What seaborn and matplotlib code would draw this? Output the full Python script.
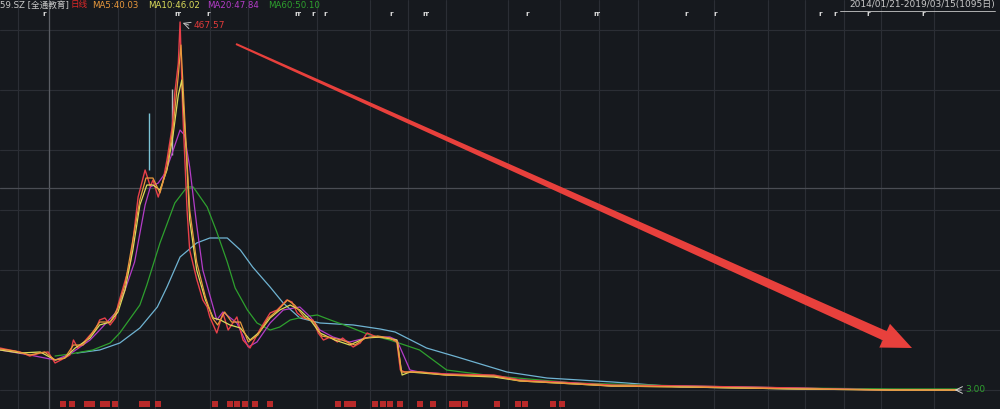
import numpy as np
import pandas as pd
import seaborn as sns
import matplotlib.pyplot as plt
from matplotlib.patches import Polygon

# --- data (x = trading day index, y = price) ---
close_day = [0, 11, 23, 34, 46, 55, 63, 74, 80, 84, 89, 95, 103, 109, 114, 120, 126, 132, 135, 140,
             149, 154, 158, 166, 172, 175, 181, 186, 191, 197, 200, 204, 206, 209, 214, 217, 225, 232, 237, 240,
             248, 255, 261, 271, 278, 286, 297, 309, 317, 328, 334, 340, 347, 358, 364, 370, 378, 386, 392, 404,
             412, 420, 431, 446, 454, 458, 463, 480, 510, 565, 595, 658, 700, 785, 849, 912, 954, 1018, 1095]
close_px = [56.0, 53.5, 51.0, 45.9, 49.7, 51.0, 37.1, 43.4, 47.2, 66.1, 56.0, 62.3, 72.4, 78.7, 91.4,
            93.9, 85.1, 93.9, 110.3, 129.2, 163.3, 208.8, 246.6, 280.7, 260.0, 268.1, 246.6, 264.3, 293.4, 335.0,
            377.9, 415.8, 467.57, 356.5, 230.2, 179.7, 143.0, 116.6, 107.8, 95.2, 75.0, 100.2, 78.7, 95.2, 66.1,
            56.0, 78.7, 100.2, 104.0, 116.6, 114.1, 100.2, 93.9, 91.4, 75.0, 66.1, 69.9, 63.6, 68.6, 57.3,
            62.3, 75.0, 69.9, 68.6, 63.6, 28.2, 25.7, 25.7, 23.2, 21.9, 15.6, 11.8, 9.3, 8.0, 6.8, 5.5, 4.3, 3.0, 3.0]

ma5_day = [0, 17, 34, 51, 63, 74, 84, 95, 103, 114, 126, 135, 143, 152, 160, 167, 175, 183, 191, 198,
           204, 207, 212, 217, 225, 235, 243, 249, 257, 265, 275, 284, 295, 307, 318, 329, 337, 349, 360, 368,
           380, 391, 406, 418, 432, 446, 455, 459, 480, 510, 565, 595, 658, 700, 785, 849, 912, 1018, 1095]
ma5 = [54.8, 52.2, 47.2, 51.0, 40.9, 43.4, 59.8, 59.8, 71.2, 88.8, 88.8, 106.5, 135.6, 192.4, 242.9,
       270.6, 270.6, 251.7, 283.3, 333.7, 400.7, 438.5, 331.2, 230.2, 164.6, 120.4, 93.9, 85.1, 101.5, 88.8,
       88.8, 63.6, 72.4, 93.9, 104.0, 116.6, 110.3, 93.9, 88.8, 71.2, 68.6, 66.1, 59.8, 68.6, 71.2,
       68.6, 63.6, 25.7, 25.7, 21.9, 20.7, 14.4, 10.6, 8.0, 6.8, 5.5, 4.3, 3.0, 3.0]

ma10_day = [0, 23, 46, 63, 74, 86, 103, 114, 126, 135, 143, 152, 160, 168, 175, 183, 191, 198, 204, 208,
            213, 217, 225, 235, 244, 252, 263, 275, 286, 297, 309, 320, 332, 343, 355, 366, 383, 400, 418, 435,
            454, 460, 469, 510, 565, 595, 658, 700, 785, 849, 912, 1018, 1095]
ma10 = [53.5, 49.7, 51.0, 40.9, 43.4, 56.0, 68.6, 85.1, 88.8, 101.5, 129.2, 179.7, 236.5, 261.8, 261.8,
        255.5, 280.7, 324.9, 375.4, 394.3, 306.0, 217.6, 154.5, 116.6, 93.9, 91.4, 85.1, 81.3, 66.1, 76.2,
        93.9, 104.0, 110.3, 104.0, 91.4, 75.0, 66.1, 59.8, 68.6, 69.9, 66.1, 21.9, 25.7, 21.9, 19.4,
        14.4, 10.6, 8.0, 6.8, 5.5, 4.3, 3.0, 3.0]

ma20_day = [0, 34, 63, 80, 103, 114, 132, 143, 154, 166, 172, 181, 189, 197, 206, 211, 217, 225, 232, 240,
            248, 255, 271, 284, 294, 309, 324, 343, 355, 366, 381, 400, 423, 446, 454, 469, 480, 510, 565, 595,
            658, 700, 785, 849, 912, 954, 1018, 1095]
ma20 = [53.5, 47.2, 40.9, 48.4, 66.1, 78.7, 100.2, 129.2, 164.6, 236.5, 259.3, 264.3, 276.9, 302.2, 331.2,
        324.9, 284.5, 211.3, 154.5, 122.9, 91.4, 101.5, 87.6, 57.3, 63.6, 87.6, 104.0, 107.8, 95.2, 78.7,
        69.9, 63.6, 69.9, 69.9, 66.1, 28.2, 25.7, 23.2, 20.7, 15.6, 11.8, 8.0, 8.0, 6.8, 5.5, 4.3, 3.0, 3.0]

ma60_day = [63, 80, 106, 126, 137, 160, 168, 183, 200, 214, 221, 237, 248, 260, 269, 283, 294, 309, 320, 332,
            347, 363, 378, 400, 423, 446, 480, 511, 565, 658, 785, 912, 1018, 1095]
ma60 = [45.9, 48.4, 53.5, 62.3, 75.0, 110.3, 135.6, 188.6, 239.1, 259.3, 259.3, 234.0, 202.5, 164.6, 131.8,
        104.0, 87.6, 78.7, 82.5, 91.4, 95.2, 97.7, 91.4, 82.5, 72.4, 66.1, 53.5, 28.2, 20.7, 11.8,
        8.0, 5.5, 4.3, 4.3]

ma120_day = [88, 114, 137, 160, 180, 191, 206, 225, 240, 260, 275, 289, 309, 324, 343, 366, 404, 435, 452, 488,
             523, 580, 626, 701, 778, 915, 1095]
ma120 = [49.7, 53.5, 62.3, 81.3, 107.8, 133.0, 170.9, 188.6, 194.9, 194.9, 179.7, 158.3, 133.0, 112.8, 93.9,
         87.6, 85.1, 80.0, 76.2, 56.0, 44.7, 25.7, 18.1, 13.1, 6.8, 4.3, 3.0]

wick_day = [170, 197]
wick_low = [280.7, 300.0]
wick_high = [352.7, 383.0]
wick_color = ['#7cc4d6', '#b8b8b8']

grid_days = [21, 56, 135, 177, 240, 284, 363, 423, 467, 510, 581, 641, 685, 730, 817, 879, 921, 966, 1008, 1069]
flag_days = [51, 203, 238, 341, 358, 372, 448, 487, 603, 683, 785, 818, 938, 955, 993, 1056]
flag_text = ['r', 'rr', 'r', 'rr', 'r', 'r', 'r', 'rr', 'r', 'rr', 'r', 'r', 'r', 'r', 'r', 'r']
event_days = [72, 82, 100, 105, 118, 122, 132, 162, 168, 181, 246, 263, 271, 280, 292, 309, 387, 397, 404,
              429, 438, 446, 458, 480, 495, 517, 524, 532, 569, 593, 601, 633, 643]

peak_day, peak_price = 206, 467.57
last_day, last_price = 1095, 3.00

header_items = [('59.SZ [全通教育]', '#c8c8c8'), ('日线', '#e02828'), ('MA5:40.03', '#e8983c'),
                ('MA10:46.02', '#dcdc5a'), ('MA20:47.84', '#b43cc8'), ('MA60:50.10', '#2ea02e')]
header_x = [0, 70, 92, 148, 207, 268]
date_range = '2014/01/21-2019/03/15(1095日)'

bg = '#16191e'
W, H = 1000, 409

sns.set_theme(style='dark', rc={'axes.facecolor': bg, 'figure.facecolor': bg})
plt.rcParams['font.family'] = ['DejaVu Sans', 'Noto Sans CJK SC']

fig = plt.figure(figsize=(W / 100, H / 100), dpi=100)
ax = fig.add_axes([0, 0, 1, 1])
ax.set_facecolor(bg)

slope = (peak_price - last_price) / (390 - 22)   # price per pixel
ax.set_ylim(last_price - 19 * slope, last_price + 390 * slope)
ax.set_xlim(0, 1144)

# grid
ax.set_yticks([last_price + k * 60 * slope for k in range(7)])
ax.set_xticks(grid_days)
ax.grid(True, color='#2b2e35', linewidth=0.8)
ax.tick_params(length=0, labelbottom=False, labelleft=False)
for s in ax.spines.values():
    s.set_visible(False)
# cursor crosshair
ax.axvline(grid_days[1], color='#5a5d64', lw=0.9)
ax.axhline(last_price + (390 - 188) * slope, color='#4a4d54', lw=0.9)

def draw(days, vals, color, lw=0.9):
    df = pd.DataFrame({'day': days, 'price': vals})
    sns.lineplot(data=df, x='day', y='price', color=color, lw=lw, ax=ax, estimator=None, sort=False)

ax.vlines(wick_day, wick_low, wick_high, colors=wick_color, lw=1.0)
draw(ma120_day, ma120, '#6fb3d2')
draw(ma60_day, ma60, '#2ea02e')
draw(ma20_day, ma20, '#b43cc8')
draw(close_day, close_px, '#e8404a', lw=1.0)
draw(ma10_day, ma10, '#dcdc5a')
draw(ma5_day, ma5, '#e8983c')
ax.set_xlabel('')
ax.set_ylabel('')

# flags at the top and event markers at the bottom
ytop = last_price + (390 - 14) * slope
for d, t in zip(flag_days, flag_text):
    ax.text(d, ytop, t, color='#e0e0e0', fontsize=5, fontweight='bold', ha='center', va='center')
ybot = last_price + (390 - 404) * slope
ax.scatter(event_days, [ybot] * len(event_days), marker='s', s=14, color='#b82a2a', lw=0)

# peak / last labels
ax.annotate('', xy=(peak_day, peak_price), xytext=(peak_day + 13, peak_price - 4 * slope),
            arrowprops=dict(arrowstyle='->', color='#c0c0c0', lw=0.7))
ax.text(peak_day + 15, peak_price - 3 * slope, '467.57', color='#e03a3a', fontsize=6.5, va='center')
ax.annotate('', xy=(last_day - 6, last_price), xytext=(last_day + 8, last_price),
            arrowprops=dict(arrowstyle='->', color='#d0d0d0', lw=0.7))
ax.text(last_day + 9, last_price, '3.00', color='#2ea02e', fontsize=6.5, va='center')

# header line
for (txt, col), x in zip(header_items, header_x):
    fig.text(x / W, 1 - 5 / H, txt, color=col, fontsize=6.2, va='center', ha='left',
             family=['DejaVu Sans', 'Noto Sans CJK SC'])
fig.text(995 / W, 1 - 5 / H, date_range, color='#c8c8c8', fontsize=6.5, va='center', ha='right',
         family=['DejaVu Sans', 'Noto Sans CJK SC'])
fig.add_artist(plt.Line2D([840 / W, 995 / W], [1 - 11 / H, 1 - 11 / H], color='#c8c8c8', lw=0.6))

# red trend arrow (figure pixel geometry)
tail = np.array([236.0, 44.0])
tip = np.array([912.0, 348.0])
u = (tip - tail) / np.linalg.norm(tip - tail)
n = np.array([-u[1], u[0]])
base = tip - u * 30
pts = [tail + n * 1.0, base + n * 5, base + n * 13, tip, base - n * 13, base - n * 5, tail - n * 1.0]
pts = [(p[0] / W, 1 - p[1] / H) for p in pts]
fig.add_artist(Polygon(pts, closed=True, transform=fig.transFigure, color='#e8403c', lw=0))

fig.savefig('out.png', dpi=100, facecolor=bg)
